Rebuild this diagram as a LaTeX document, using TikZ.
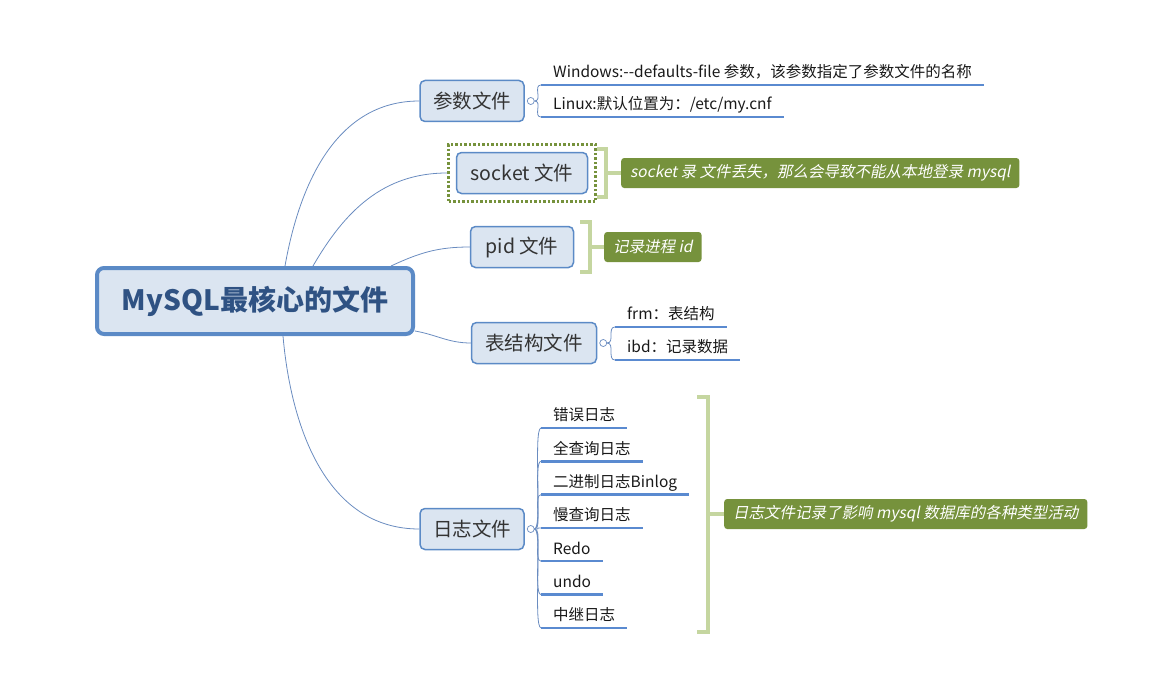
\documentclass[tikz,border=0pt]{standalone}
\usepackage{fontspec}
\setmainfont{Noto Sans CJK SC}
\newfontfamily\slantfont{Noto Sans CJK SC}[FakeSlant=0.2]
\definecolor{boxfill}{HTML}{DBE5F1}
\definecolor{boxline}{HTML}{5B8AC6}
\definecolor{rootblue}{HTML}{2F5283}
\definecolor{branchline}{HTML}{6A8CC0}
\definecolor{ulblue}{HTML}{5A8AD0}
\definecolor{olive}{HTML}{76923C}
\definecolor{bracegreen}{HTML}{C5D6A0}
\tikzset{
  root/.style={draw=boxline, line width=4pt, fill=boxfill, rounded corners=7pt, minimum width=316pt, minimum height=66pt, font=\fontsize{28}{32}\selectfont\bfseries, text=rootblue},
  topic/.style={draw=boxline, line width=1.5pt, fill=boxfill, rounded corners=5pt, minimum height=41pt, inner xsep=12pt, font=\fontsize{19.5}{22}\selectfont, text=black!80},
  leaf/.style={anchor=south west, inner xsep=12pt, inner ysep=3pt, text height=12pt, text depth=4pt, font=\fontsize{15.5}{17}\selectfont, text=black!90},
  uline/.style={draw=ulblue, line width=2.5pt},
  branch/.style={draw=branchline, line width=0.8pt},
  note/.style={anchor=west, fill=olive, text=white, rounded corners=3pt, minimum height=30pt, inner xsep=9pt, font=\fontsize{15.5}{17}\selectfont\slantfont},
  brace/.style={draw=bracegreen, line width=4pt},
  knob/.style={circle, draw=branchline, fill=white, inner sep=0pt, minimum size=7pt, line width=0.7pt}
}
\begin{document}
\begin{tikzpicture}[x=1pt,y=-1pt]
\useasboundingbox (0,0) rectangle (1172,682);

\node[root] (root) at (255,301) {MySQL最核心的文件};

\node[topic, minimum width=104pt] (param) at (472,101) {参数文件};
\node[topic, minimum width=131pt] (sock) at (522,173) {socket 文件};
\node[draw=olive, line width=3pt, dash pattern=on 2.5pt off 2pt, minimum width=147pt, minimum height=57pt] (sockf) at (522,173) {};
\node[topic, minimum width=103pt] (pid) at (522,247) {pid 文件};
\node[topic, minimum width=125pt] (struct) at (534,343) {表结构文件};
\node[topic, minimum width=104pt] (log) at (472,529) {日志文件};

\draw[branch] ([xshift=30pt]root.north) to[out=80,in=180] (param.west);
\draw[branch] ([xshift=58pt]root.north) to[out=60,in=180] (sockf.west);
\draw[branch] ([xshift=136pt]root.north) to[out=25,in=180] (pid.west);
\draw[branch] ([yshift=-30pt]root.east) to[out=-10,in=180] (struct.west);
\draw[branch] ([xshift=28pt]root.south) to[out=-85,in=180] (log.west);

% parameter file
\node[knob] (pk) at ([xshift=6pt]param.east) {};
\node[leaf] (p1) at (541,85) {Windows:-{}-defaults-file 参数，该参数指定了参数文件的名称};
\node[leaf] (p2) at (541,117) {Linux:默认位置为：/etc/my.cnf};
\foreach \n in {p1,p2} {
  \draw[branch] (pk.east) .. controls +(8,0) and +(-8,0) .. (\n.south west);
  \draw[uline] (\n.south west) -- (\n.south east);
}

% socket and pid notes
\node[note] (sockn) at (621,173) {socket 录 文件丢失，那么会导致不能从本地登录 mysql};
\draw[brace] ([yshift=-6pt]sockf.north east) -| ([xshift=9pt]sockf.east) |- ([yshift=6pt]sockf.south east);
\draw[brace] ([xshift=9pt]sockf.east) -- (sockn.west);

\node[note] (pidn) at (604,247) {记录进程 id};
\draw[brace] ([xshift=6pt,yshift=4pt]pid.north east) -| ([xshift=16pt]pid.east) |- ([xshift=6pt,yshift=-4pt]pid.south east);
\draw[brace] ([xshift=16pt]pid.east) -- (pidn.west);

% table structure
\node[knob] (sk) at ([xshift=6pt]struct.east) {};
\node[leaf] (s1) at (615,327) {frm：表结构};
\node[leaf] (s2) at (615,360) {ibd：记录数据};
\foreach \n in {s1,s2} {
  \draw[branch] (sk.east) .. controls +(8,0) and +(-8,0) .. (\n.south west);
  \draw[uline] (\n.south west) -- (\n.south east);
}

% log files
\node[knob] (lk) at ([xshift=6pt]log.east) {};
\foreach \t [count=\i] in {错误日志,全查询日志,二进制日志Binlog,慢查询日志,Redo,undo,中继日志} {
  \node[leaf] (l\i) at (541,{428+33.3*(\i-1)}) {\t};
  \draw[branch] (lk.east) .. controls +(8,0) and +(-8,0) .. (l\i.south west);
  \draw[uline] (l\i.south west) -- (l\i.south east);
}
\node[note] (logn) at (724,514) {日志文件记录了影响 mysql 数据库的各种类型活动};
\coordinate (lb) at (708,514);
\draw[brace] (697,397) -| (lb) |- (697,632);
\draw[brace] (lb) -- (logn.west);
\end{tikzpicture}
\end{document}
